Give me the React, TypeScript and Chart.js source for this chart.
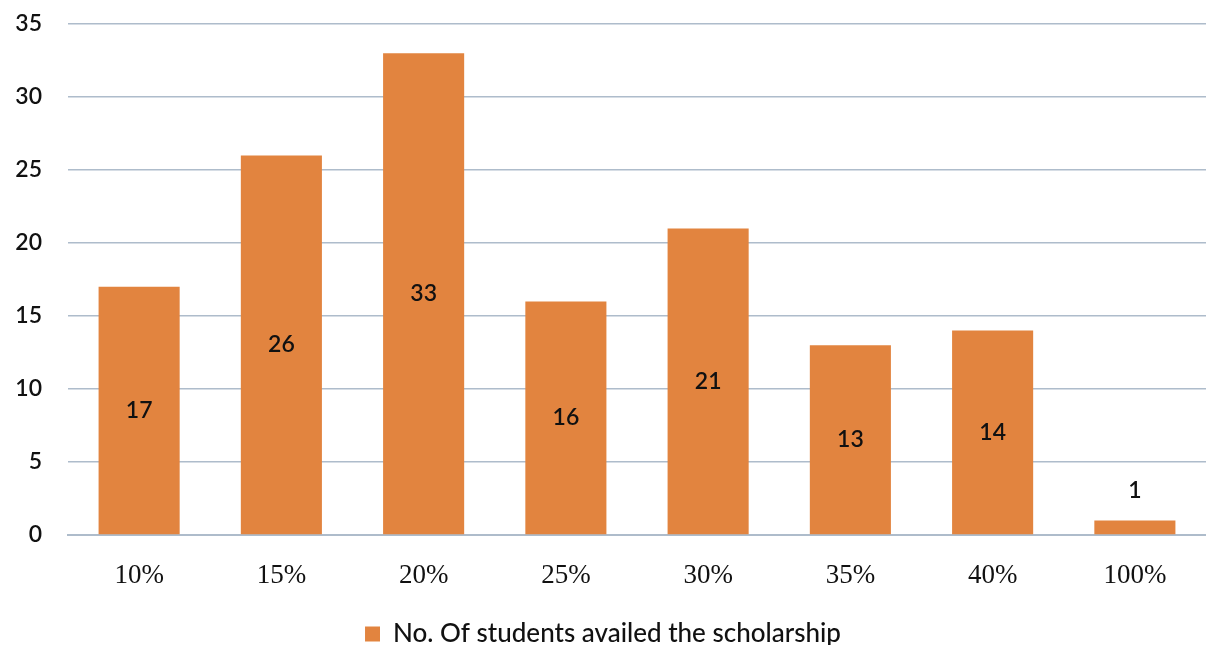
import React, { useEffect, useRef } from "react";
import { Chart, registerables } from "chart.js";

Chart.register(...registerables);

const categories = ["10%", "15%", "20%", "25%", "30%", "35%", "40%", "100%"];
const studentCounts = [17, 26, 33, 16, 21, 13, 14, 1];
const seriesLabel = "No. Of students availed the scholarship";
const yTicks = [0, 5, 10, 15, 20, 25, 30, 35];

const BAR_COLOR = "#E2843F";
const GRID_COLOR = "#AEBCCB";
const SANS = "Lato, 'Open Sans', sans-serif";
const SERIF = "'Liberation Serif', 'DejaVu Serif', serif";

const valueLabels = {
  id: "valueLabels",
  afterDatasetsDraw(chart: any) {
    const ctx = chart.ctx;
    const meta = chart.getDatasetMeta(0);
    const data = chart.data.datasets[0].data as number[];
    ctx.save();
    ctx.fillStyle = "#111";
    ctx.font = `600 23px ${SANS}`;
    ctx.textAlign = "center";
    ctx.textBaseline = "middle";
    meta.data.forEach((bar: any, i: number) => {
      const h = bar.base - bar.y;
      const y = h < 40 ? bar.y - 30 : (bar.y + bar.base) / 2;
      ctx.fillText(String(data[i]), bar.x, y);
    });
    ctx.restore();
  },
};

export default function App() {
  const ref = useRef<HTMLCanvasElement | null>(null);
  useEffect(() => {
    document.body.style.margin = "0";
    const chart = new Chart(ref.current!, {
      type: "bar",
      data: {
        labels: categories,
        datasets: [
          {
            label: seriesLabel,
            data: studentCounts,
            backgroundColor: BAR_COLOR,
            borderWidth: 0,
            barPercentage: 0.57,
            categoryPercentage: 1,
          },
        ],
      },
      options: {
        animation: false,
        responsive: false,
        layout: { padding: { top: 24, right: 0, left: 0, bottom: 0 } },
        plugins: {
          tooltip: { enabled: false },
          legend: {
            position: "bottom",
            labels: {
              color: "#111",
              font: { family: SANS, size: 26, weight: "500" },
              boxWidth: 15,
              boxHeight: 15,
              padding: 2,
            },
          },
        },
        scales: {
          x: {
            afterFit: (scale: any) => {
              scale.height = 84;
            },
            grid: { display: false },
            border: { display: true, color: GRID_COLOR, width: 2 },
            ticks: {
              color: "#111",
              font: { family: SERIF, size: 27 },
              padding: 17,
            },
          },
          y: {
            min: 0,
            max: 35,
            afterBuildTicks: (scale: any) => {
              scale.ticks = yTicks.map((v) => ({ value: v }));
            },
            afterFit: (scale: any) => {
              scale.width = 68;
              scale.paddingTop = 0;
            },
            grid: { color: GRID_COLOR, lineWidth: 1.5, drawTicks: false },
            border: { display: false },
            ticks: {
              color: "#111",
              font: { family: SANS, size: 23, weight: "600" },
              padding: 26,
            },
          },
        },
      },
      plugins: [valueLabels],
    });
    return () => chart.destroy();
  }, []);
  return (
    <div style={{ position: "fixed", left: 0, top: 0, width: 1206, height: 645, overflow: "hidden", background: "#fff" }}>
      <canvas ref={ref} width={1206} height={657} style={{ display: "block" }} />
    </div>
  );
}
